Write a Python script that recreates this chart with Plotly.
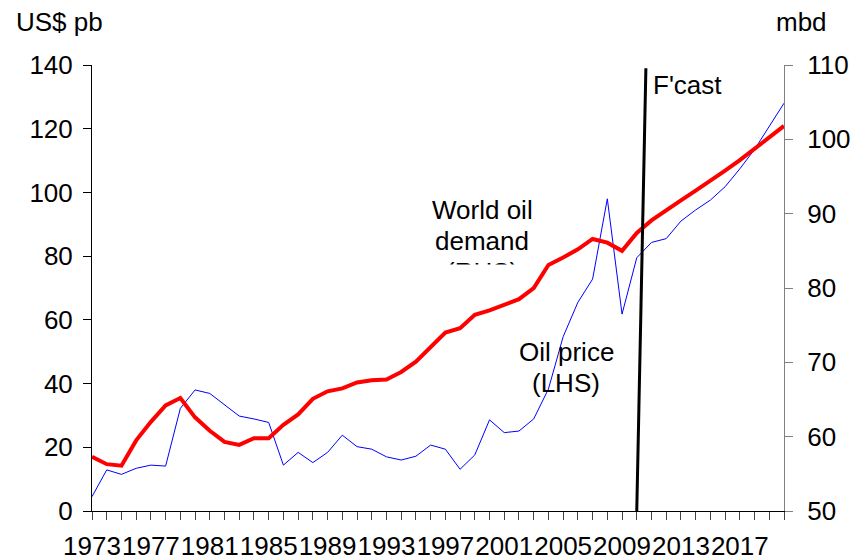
import plotly.graph_objects as go

years = list(range(1973, 2021))
oil_price = [4.5, 12.9, 11.5, 13.4, 14.4, 14.1, 32.2, 38.0, 36.9, 33.3, 29.8, 28.9, 27.8,
             14.4, 18.4, 15.2, 18.4, 23.8, 20.2, 19.4, 17.0, 16.0, 17.2, 20.7, 19.4, 13.1,
             17.6, 28.6, 24.6, 25.1, 28.9, 38.3, 54.7, 65.5, 72.8, 98.0, 61.8, 79.5, 84.3,
             85.5, 91.0, 94.5, 97.6, 101.8, 107.4, 113.5, 120.6, 128.0]
oil_demand = [57.3, 56.3, 56.1, 59.5, 62.0, 64.2, 65.2, 62.6, 60.8, 59.3, 58.9, 59.8, 59.8,
              61.6, 63.0, 65.1, 66.1, 66.5, 67.3, 67.6, 67.7, 68.7, 70.1, 72.1, 74.0, 74.6,
              76.4, 77.0, 77.8, 78.5, 80.0, 83.1, 84.1, 85.2, 86.6, 86.1, 85.0, 87.4, 89.1,
              90.5, 91.8, 93.1, 94.4, 95.8, 97.2, 98.7, 100.2, 101.8]
tick_labels = [str(y) if (y - 1973) % 4 == 0 else "" for y in years]
forecast_start = 2010

FONT = "Liberation Sans, Arial, sans-serif"
FS = 26

fig = go.Figure()
fig.add_trace(go.Scatter(x=years, y=oil_price, mode="lines", name="Oil price (LHS)",
                         line=dict(color="#0000FF", width=1), yaxis="y"))
fig.add_trace(go.Scatter(x=years, y=oil_demand, mode="lines", name="World oil demand (RHS)",
                         line=dict(color="#FF0000", width=4), yaxis="y2"))

fig.add_shape(type="line", xref="x", yref="y", x0=forecast_start, y0=0,
              x1=forecast_start + 0.62, y1=139, line=dict(color="black", width=3))

ann_font = dict(family=FONT, size=FS, color="black")
fig.add_annotation(x=1999.5, y=94.5, xref="x", yref="y", text="World oil", showarrow=False, font=ann_font)
fig.add_annotation(x=1999.5, y=84.8, xref="x", yref="y", text="demand", showarrow=False, font=ann_font)
fig.add_annotation(x=1999.5, y=75.0, xref="x", yref="y", text="(RHS)", showarrow=False, font=ann_font)
fig.add_annotation(x=1999.5, y=73.4, xref="x", yref="y", text=" ", showarrow=False,
                   bgcolor="white", width=84, height=24, borderpad=0, font=ann_font)
fig.add_annotation(x=2005.2, y=49.9, xref="x", yref="y", text="Oil price", showarrow=False, font=ann_font)
fig.add_annotation(x=2005.2, y=40.2, xref="x", yref="y", text="(LHS)", showarrow=False, font=ann_font)
fig.add_annotation(x=2010.95, y=133.7, xref="x", yref="y", text="F'cast", showarrow=False,
                   xanchor="left", font=ann_font)
fig.add_annotation(x=(14 - 92) / 692, y=1 + (65 - 22) / 446, xref="paper", yref="paper",
                   text="US$ pb", showarrow=False, xanchor="left", yanchor="middle", font=ann_font)
fig.add_annotation(x=(801 - 92) / 692, y=1 + (65 - 22) / 446, xref="paper", yref="paper",
                   text="mbd", showarrow=False, xanchor="center", yanchor="middle", font=ann_font)

fig.update_layout(
    width=852, height=560,
    margin=dict(l=92, r=68, t=65, b=49, autoexpand=False),
    plot_bgcolor="white", paper_bgcolor="white",
    showlegend=False,
    font=dict(family=FONT, size=FS, color="black"),
    xaxis=dict(range=[1973, 2020], tickvals=years, ticktext=tick_labels,
               ticks="outside", ticklen=8, tickcolor="#444", showgrid=False, zeroline=False,
               showline=True, linecolor="black", linewidth=1, tickangle=0,
               ticklabelstandoff=4, tickfont=dict(family=FONT, size=FS)),
    yaxis=dict(range=[0, 140], dtick=20, ticks="outside", ticklen=8, tickcolor="black",
               showgrid=False, zeroline=False, showline=True, linecolor="black", linewidth=1,
               ticklabelstandoff=5, tickfont=dict(family=FONT, size=FS)),
    yaxis2=dict(range=[50, 110], dtick=10, overlaying="y", side="right", ticks="outside",
                ticklen=8, tickcolor="#808080", showgrid=False, zeroline=False, showline=True,
                linecolor="#808080", linewidth=1, ticklabelstandoff=9,
                tickfont=dict(family=FONT, size=FS)),
)

fig.write_html("out.html", config={"displayModeBar": False},
               post_script="document.body.style.margin='0';document.body.style.overflow='hidden';")
